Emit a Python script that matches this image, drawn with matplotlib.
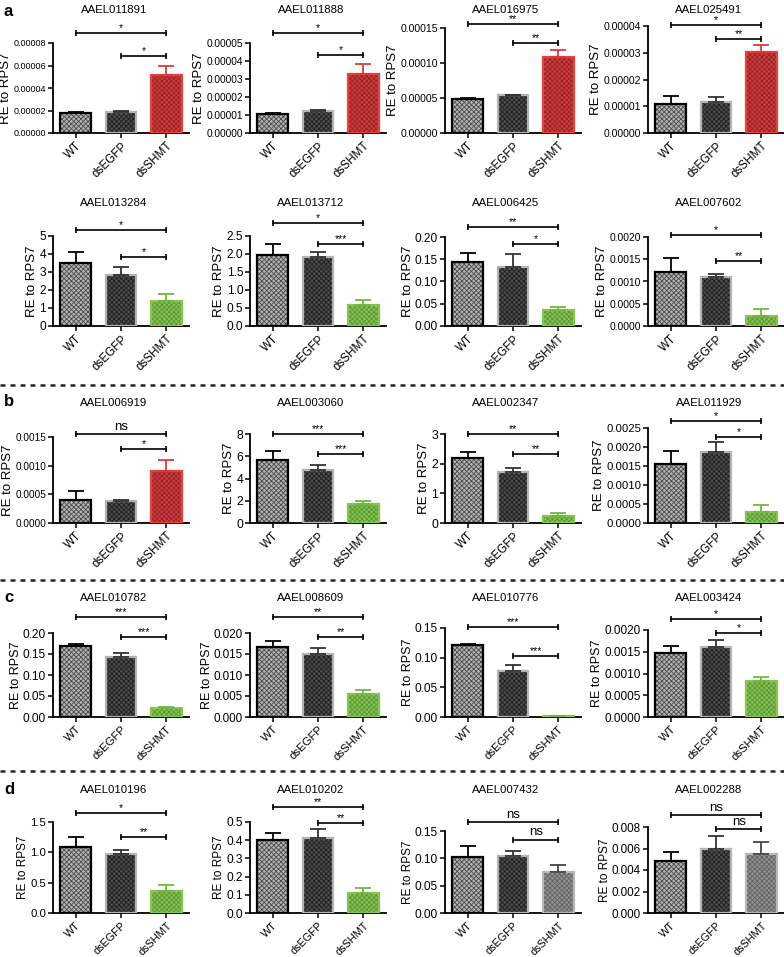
import numpy as np
import matplotlib.pyplot as plt
from matplotlib.lines import Line2D

plt.rcParams['font.family'] = ['Liberation Sans', 'DejaVu Sans']
plt.rcParams['hatch.linewidth'] = 0.6

# ---- data ----
genes = ['AAEL011891', 'AAEL011888', 'AAEL016975', 'AAEL025491',
         'AAEL013284', 'AAEL013712', 'AAEL006425', 'AAEL007602',
         'AAEL006919', 'AAEL003060', 'AAEL002347', 'AAEL011929',
         'AAEL010782', 'AAEL008609', 'AAEL010776', 'AAEL003424',
         'AAEL010196', 'AAEL010202', 'AAEL007432', 'AAEL002288']
groups = ['WT', 'dsEGFP', 'dsSHMT']

wt_mean = [1.8e-5, 1.05e-5, 4.9e-5, 1.1e-5,
           3.5, 1.97, 0.143, 0.00122,
           0.0004, 5.7, 2.18, 0.00155,
           0.170, 0.0167, 0.121, 0.00148,
           1.08, 0.40, 0.102, 0.0048]
wt_err = [0.1e-5, 0.08e-5, 0.1e-5, 0.3e-5,
          0.6, 0.3, 0.022, 0.0003,
          0.00016, 0.75, 0.22, 0.00035,
          0.004, 0.0015, 0.002, 0.00015,
          0.17, 0.04, 0.02, 0.0009]
egfp_mean = [1.9e-5, 1.22e-5, 5.4e-5, 1.15e-5,
             2.85, 1.93, 0.132, 0.0011,
             0.00038, 4.8, 1.72, 0.00188,
             0.142, 0.015, 0.077, 0.0016,
             0.98, 0.41, 0.105, 0.006]
egfp_err = [0.08e-5, 0.07e-5, 0.1e-5, 0.18e-5,
            0.4, 0.12, 0.03, 0.00007,
            0.00002, 0.4, 0.15, 0.00025,
            0.01, 0.0015, 0.01, 0.00016,
            0.06, 0.05, 0.008, 0.0012]
shmt_mean = [5.2e-5, 3.3e-5, 10.8e-5, 3.02e-5,
             1.4, 0.58, 0.037, 0.00023,
             0.0009, 1.75, 0.25, 0.0003,
             0.022, 0.0055, 0.002, 0.00083,
             0.36, 0.11, 0.075, 0.0055]
shmt_err = [0.8e-5, 0.55e-5, 1.1e-5, 0.28e-5,
            0.35, 0.15, 0.005, 0.00015,
            0.0002, 0.25, 0.1, 0.00018,
            0.003, 0.001, 0.0005, 0.0001,
            0.1, 0.03, 0.013, 0.0011]
shmt_kind = ['red', 'red', 'red', 'red',
             'green', 'green', 'green', 'green',
             'red', 'green', 'green', 'green',
             'green', 'green', 'green', 'green',
             'green', 'green', 'gray', 'gray']

# significance: WT vs dsSHMT (long), dsEGFP vs dsSHMT (short)
sig_long = ['*', '*', '**', '*', '*', '*', '**', '*', 'ns', '***', '**', '*',
            '***', '**', '***', '*', '*', '**', 'ns', 'ns']
sig_short = ['*', '*', '**', '**', '*', '***', '*', '**', '*', '***', '**', '*',
             '***', '**', '***', '*', '**', '**', 'ns', 'ns']
brk_long = [8.89e-5, 5.56e-5, 1.557e-4, 4.04e-5, 5.33, 2.86, 0.222, 0.00204,
            0.00155, 8.0, 3.0, 0.00268, 0.238, 0.0238, 0.152, 0.00225,
            1.65, 0.582, 0.166, 0.00912]
brk_short = [6.84e-5, 4.33e-5, 1.286e-4, 3.51e-5, 3.83, 2.28, 0.184, 0.00146,
             0.00129, 6.2, 2.33, 0.00226, 0.19, 0.019, 0.102, 0.00193,
             1.25, 0.495, 0.134, 0.00781]

# y axis ticks
y_max = [8e-5, 5e-5, 1.5e-4, 4e-5, 5, 2.5, 0.2, 0.002,
         0.0015, 8, 3, 0.0025, 0.2, 0.02, 0.15, 0.002,
         1.5, 0.5, 0.15, 0.008]
y_step = [2e-5, 1e-5, 5e-5, 1e-5, 1, 0.5, 0.05, 0.0005,
          0.0005, 2, 1, 0.0005, 0.05, 0.005, 0.05, 0.0005,
          0.5, 0.1, 0.05, 0.002]
y_dec = [5, 5, 5, 5, 0, 1, 2, 4, 4, 0, 0, 4, 2, 3, 2, 4, 1, 1, 2, 3]

# ---- layout (pixels) ----
W, H = 784, 957
col_left = [53, 250, 445, 648]
axw = 136
row_bottom = [133, 326, 523, 717, 913]
panel_top = [43, 43, 28, 26, 236, 236, 237, 237, 437, 434, 434, 428,
             633, 633, 628, 630, 822, 822, 831, 827]
title_y = [10, 203, 403, 598, 790]
ytick_fs = [6.5, 7.3, 7.6, 7.6, 8.6, 8.6, 8.6, 7.4, 7.2, 8.8, 8.8, 8.2,
            8.6, 8.4, 8.6, 8.5, 8.2, 8.6, 8.6, 8.4]
ylab_fs = [9.5, 9.5, 9.5, 9, 8.5]
xtick_fs = [8.4, 8.4, 8.4, 8.2, 7.8]
letters = [('a', 12), ('b', 402), ('c', 598), ('d', 790)]
separators = [385, 580, 771]

style_wt = dict(face='#b4b4b4', hatch='#4a4a4a', edge='black', err='black')
style_egfp = dict(face='#4c4c4c', hatch='#202020', edge='#b4b4b4', err='#333333')
style_shmt = {
    'red': dict(face='#c93c3e', hatch='#992226', edge='#e8403a', err='#e03a34'),
    'green': dict(face='#84c055', hatch='#5c9832', edge='#86c64e', err='#72b83e'),
    'gray': dict(face='#909090', hatch='#626262', edge='#b8b8b8', err='#444444'),
}

fig = plt.figure(figsize=(W / 100, H / 100), dpi=100)

for i in range(20):
    r, c = divmod(i, 4)
    left = col_left[c]
    bot = row_bottom[r]
    top = panel_top[i]
    ax = fig.add_axes([left / W, 1 - bot / H, axw / W, (bot - top) / H])

    means = [wt_mean[i], egfp_mean[i], shmt_mean[i]]
    errs = [wt_err[i], egfp_err[i], shmt_err[i]]
    styles = [style_wt, style_egfp, style_shmt[shmt_kind[i]]]
    for xi, (m, e, st) in enumerate(zip(means, errs, styles)):
        ax.bar(xi, m, 0.68, color=st['face'], edgecolor=st['hatch'],
               hatch='xxxxxxx', linewidth=0, zorder=2)
        ax.bar(xi, m, 0.68, fill=False, edgecolor=st['edge'],
               linewidth=1.6, zorder=3)
        ax.errorbar(xi, m, yerr=[[0], [e]], color=st['err'], capsize=6,
                    elinewidth=1.3, capthick=1.3, zorder=4)

    ax.set_xlim(-0.5, 2.5)
    ax.set_ylim(0, y_max[i])
    ticks = np.arange(0, y_max[i] + y_step[i] / 2, y_step[i])
    ax.set_yticks(ticks)
    ax.set_yticklabels([f'{t:.{y_dec[i]}f}' for t in ticks], fontsize=ytick_fs[i])
    ax.set_xticks(range(3))
    ax.set_xticklabels(groups, rotation=45, ha='right', rotation_mode='anchor',
                       fontsize=xtick_fs[r])
    ax.tick_params(axis='both', length=3.5, width=1.1, pad=1.5)
    for s in ['top', 'right']:
        ax.spines[s].set_visible(False)
    for s in ['left', 'bottom']:
        ax.spines[s].set_linewidth(1.3)
    ax.set_ylabel('RE to RPS7', fontsize=ylab_fs[r], labelpad=1)

    # significance brackets
    for x0, yb, lab in [(0, brk_long[i], sig_long[i]), (1, brk_short[i], sig_short[i])]:
        ax.plot([x0, 2], [yb, yb], color='black', lw=1.2, marker='|',
                markersize=4, mew=1.2, clip_on=False, zorder=5)
        ns = lab == 'ns'
        ax.annotate(lab, xy=((x0 + 2) / 2, yb), xytext=(0, 1 if ns else 0),
                    textcoords='offset points', ha='center', va='bottom',
                    fontsize=9.5 if ns else 7.5, annotation_clip=False)

    fig.text((left + axw / 2 - 7) / W, 1 - title_y[r] / H, genes[i],
             ha='center', va='center', fontsize=8.2)

for lab, y in letters:
    fig.text(4 / W, 1 - y / H, lab, fontsize=12, fontweight='bold',
             ha='left', va='center')

for y in separators:
    fig.add_artist(Line2D([0, 1], [1 - y / H, 1 - y / H], color='#222222',
                          lw=1.8, linestyle=(0, (2, 2))))

fig.savefig('out.png', dpi=100)
